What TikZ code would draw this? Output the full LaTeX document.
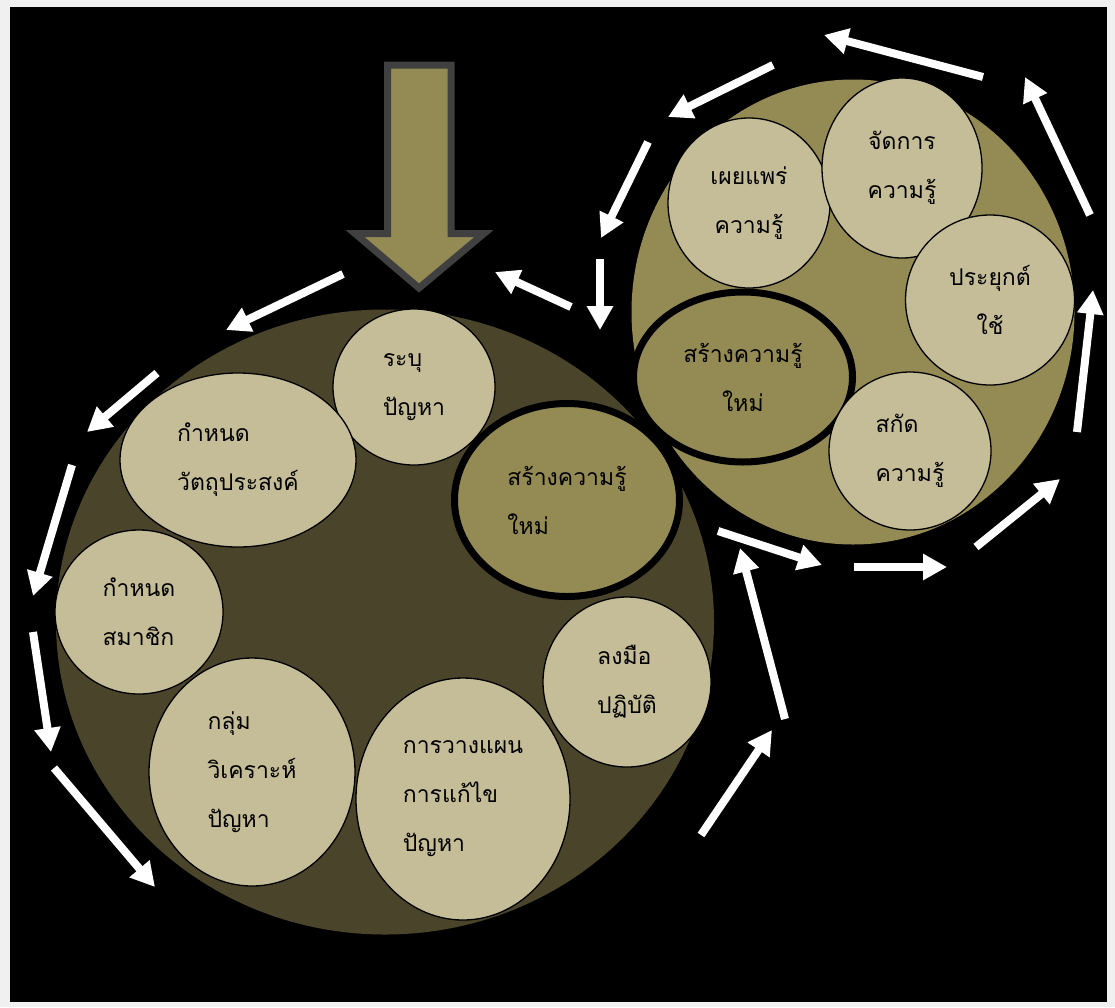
\documentclass[tikz,border=0pt]{standalone}
\usepackage{fontspec}
\usetikzlibrary{shapes.geometric,arrows.meta}
\newfontfamily\thaifont[Script=Thai]{Loma}
\definecolor{bgdark}{HTML}{4A452A}
\definecolor{olivefill}{HTML}{948A54}
\definecolor{tanfill}{HTML}{C4BD97}
\definecolor{shaftgray}{HTML}{404040}
\definecolor{framegray}{HTML}{F0F0F0}
\tikzset{
  blob/.style={ellipse, inner sep=0pt, outer sep=0pt, text=black,
    font=\thaifont\fontsize{23}{49}\selectfont},
  topic/.style={blob, draw=black, line width=1.3pt, fill=tanfill},
  newk/.style={blob, draw=black, line width=7pt, fill=olivefill},
  flow/.style={draw=white, line width=8pt, -{Triangle[width=25pt,length=24pt]}},
}
\begin{document}
\begin{tikzpicture}[x=1pt,y=-1pt]
  % frame and black ground
  \fill[framegray] (0,0) rectangle (1115,1007);
  \fill[black] (10,7) rectangle (1107,1002);
  \useasboundingbox (0,0) rectangle (1115,1007);

  % left cycle
  \node[blob, fill=bgdark, minimum width=658, minimum height=625] (cycleL) at (385,622) {};
  \node[topic, align=left, minimum width=162, minimum height=156] (identify) at (414,387) {ระบุ\\ปัญหา};
  \node[topic, align=left, minimum width=236, minimum height=174] (goal) at (238,460) {กำหนด\\วัตถุประสงค์};
  \node[topic, align=left, minimum width=168, minimum height=164] (members) at (139,612) {กำหนด\\สมาชิก};
  \node[topic, align=left, minimum width=206, minimum height=228] (analyse) at (252,772) {กลุ่ม\\วิเคราะห์\\ปัญหา};
  \node[topic, align=left, minimum width=214, minimum height=242] (plan) at (463,799) {การวางแผน\\การแก้ไข\\ปัญหา};
  \node[topic, align=left, minimum width=168, minimum height=170] (practice) at (627,682) {ลงมือ\\ปฏิบัติ};
  \node[newk, align=left, minimum width=225, minimum height=193] (newL) at (567,500) {สร้างความรู้\\ใหม่};

  % right cycle
  \node[blob, fill=olivefill, minimum width=443, minimum height=465] (cycleR) at (853,312) {};
  \node[newk, align=center, minimum width=219, minimum height=170] (newR) at (743,377) {สร้างความรู้\\ใหม่};
  \node[topic, align=center, minimum width=162, minimum height=170] (share) at (749,203) {เผยแพร่\\ความรู้};
  \node[topic, align=center, minimum width=160, minimum height=180] (manage) at (902,168) {จัดการ\\ความรู้};
  \node[topic, align=center, minimum width=169, minimum height=170] (apply) at (990,300) {ประยุกต์\\ใช้};
  \node[topic, align=left, minimum width=162, minimum height=158] (extract) at (910,451) {สกัด\\ความรู้};

  % big entry arrow
  \draw[shaftgray, fill=olivefill, line width=7pt, miter limit=10]
    (387.5,65) -- (451,65) -- (451,233.5) -- (484,233.5) -- (419,288)
    -- (355,233.5) -- (387.5,233.5) -- cycle;

  % flow arrows round both cycles
  \foreach \xa/\ya/\xb/\yb in {
      343/274/226/330, 157/373/87/432, 72/465/33/596, 33/632/51/752,
      54/768/155/887, 701/835/772/730, 785/719/740/548, 718/531/822/565,
      854/567/947/567, 976/547/1060/479, 1077/432/1093/290, 1090/215/1025/77,
      983/77/824/35, 773/65/668/117, 648/142/601/238, 600/259/600/330,
      571/307/495/272} {
    \draw[flow] (\xa,\ya) -- (\xb,\yb);
  }
\end{tikzpicture}
\end{document}
